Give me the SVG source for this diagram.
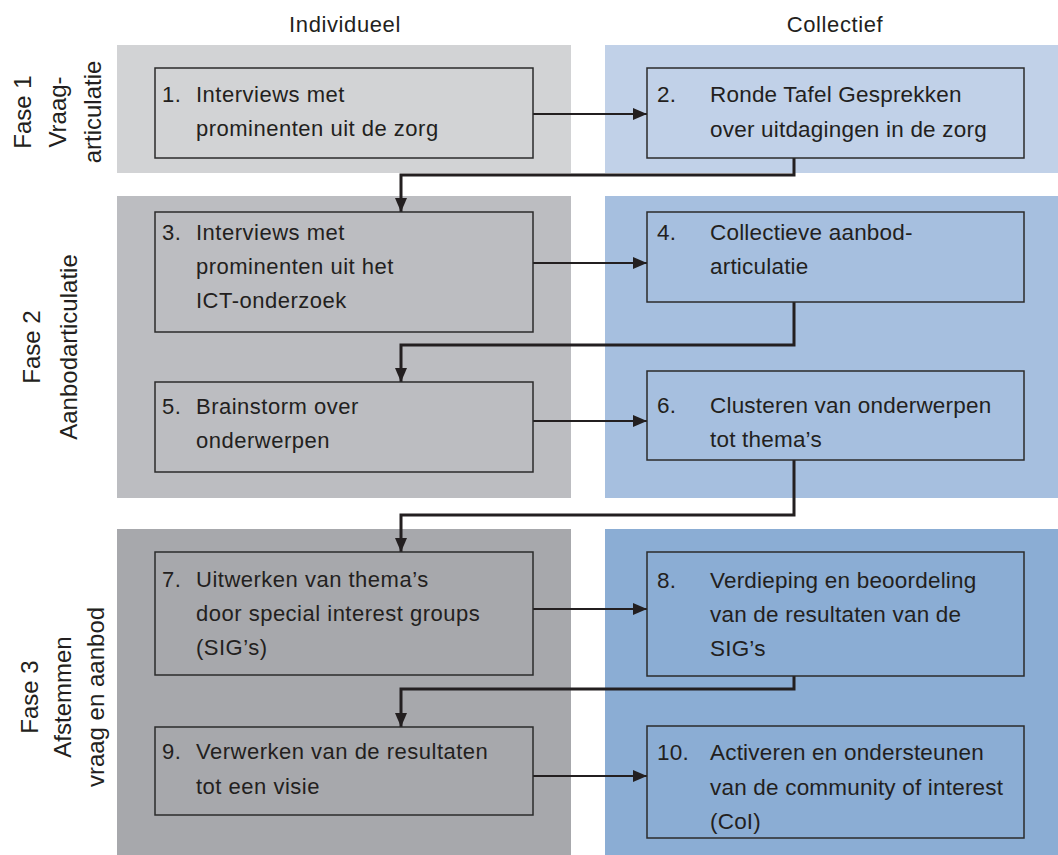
<svg xmlns="http://www.w3.org/2000/svg" width="1058" height="855" viewBox="0 0 1058 855">
<style>
text{font-family:"Liberation Sans",Arial,sans-serif;fill:#231f20}
.l{font-size:22px;letter-spacing:0.5px}
.r{font-size:22.5px;letter-spacing:0.2px}
.h{font-size:22px;letter-spacing:0.6px;text-anchor:middle}
.p{font-size:24px;text-anchor:middle}
.box{fill:none;stroke:#2b2b2b;stroke-width:1.5}
.thin{fill:none;stroke:#231f20;stroke-width:2}
.thick{fill:none;stroke:#231f20;stroke-width:3}
</style>
<defs>
<marker id="ah" viewBox="0 0 14 12" refX="14" refY="6" markerWidth="14" markerHeight="12" markerUnits="userSpaceOnUse" orient="auto">
<path d="M0,0 L14,6 L0,12 Z" fill="#231f20"/>
</marker>
</defs>
<g id="panels">
<rect x="117" y="45" width="454" height="128" fill="#d2d3d5"/>
<rect x="605" y="45" width="453" height="128" fill="#c1d1e8"/>
<rect x="117" y="196" width="454" height="302" fill="#bcbdc1"/>
<rect x="605" y="196" width="453" height="302" fill="#a6bfdf"/>
<rect x="117" y="529" width="454" height="326" fill="#a7a8ac"/>
<rect x="605" y="529" width="453" height="326" fill="#8badd4"/>
</g>
<g id="headers">
<text class="h" x="345" y="32">Individueel</text>
<text class="h" x="835" y="32">Collectief</text>
</g>
<g id="phases">
<g transform="translate(0,112) rotate(-90)">
<text class="p" x="0" y="31">Fase 1</text>
<text class="p" x="0" y="66">Vraag-</text>
<text class="p" x="0" y="101">articulatie</text>
</g>
<g transform="translate(0,347) rotate(-90)">
<text class="p" x="0" y="40">Fase 2</text>
<text class="p" x="0" y="77">Aanbodarticulatie</text>
</g>
<g transform="translate(0,697) rotate(-90)">
<text class="p" x="0" y="38">Fase 3</text>
<text class="p" x="0" y="71">Afstemmen</text>
<text class="p" x="0" y="104">vraag en aanbod</text>
</g>
</g>
<g id="connectors">
<path class="thin" d="M533,114 H647" marker-end="url(#ah)"/>
<path class="thick" d="M794,158 V175 H401 V212" marker-end="url(#ah)"/>
<path class="thin" d="M533,263 H647" marker-end="url(#ah)"/>
<path class="thick" d="M794,302 V345 H401 V382" marker-end="url(#ah)"/>
<path class="thin" d="M533,421 H647" marker-end="url(#ah)"/>
<path class="thick" d="M794,460 V515 H401 V552" marker-end="url(#ah)"/>
<path class="thin" d="M533,609 H647" marker-end="url(#ah)"/>
<path class="thick" d="M794,676 V689 H401 V727" marker-end="url(#ah)"/>
<path class="thin" d="M533,776 H647" marker-end="url(#ah)"/>
</g>
<g id="n1">
<rect class="box" x="155" y="68" width="378" height="90"/>
<text class="l" x="162" y="102">1.</text>
<text class="l" x="196" y="102">Interviews met</text>
<text class="l" x="196" y="136">prominenten uit de zorg</text>
</g>
<g id="n2">
<rect class="box" x="647" y="68" width="377" height="90"/>
<text class="r" x="657" y="102">2.</text>
<text class="r" x="710" y="102">Ronde Tafel Gesprekken</text>
<text class="r" x="710" y="137">over uitdagingen in de zorg</text>
</g>
<g id="n3">
<rect class="box" x="155" y="212" width="378" height="120"/>
<text class="l" x="162" y="240">3.</text>
<text class="l" x="196" y="240">Interviews met</text>
<text class="l" x="196" y="274">prominenten uit het</text>
<text class="l" x="196" y="308">ICT-onderzoek</text>
</g>
<g id="n4">
<rect class="box" x="647" y="212" width="377" height="90"/>
<text class="r" x="657" y="240">4.</text>
<text class="r" x="710" y="240">Collectieve aanbod-</text>
<text class="r" x="710" y="274">articulatie</text>
</g>
<g id="n5">
<rect class="box" x="155" y="382" width="378" height="90"/>
<text class="l" x="162" y="414">5.</text>
<text class="l" x="196" y="414">Brainstorm over</text>
<text class="l" x="196" y="448">onderwerpen</text>
</g>
<g id="n6">
<rect class="box" x="647" y="371" width="377" height="89"/>
<text class="r" x="657" y="413">6.</text>
<text class="r" x="710" y="413">Clusteren van onderwerpen</text>
<text class="r" x="710" y="447">tot thema’s</text>
</g>
<g id="n7">
<rect class="box" x="155" y="552" width="378" height="123"/>
<text class="l" x="162" y="587">7.</text>
<text class="l" x="196" y="587">Uitwerken van thema’s</text>
<text class="l" x="196" y="621">door special interest groups</text>
<text class="l" x="196" y="655">(SIG’s)</text>
</g>
<g id="n8">
<rect class="box" x="647" y="552" width="377" height="124"/>
<text class="r" x="657" y="588">8.</text>
<text class="r" x="710" y="588">Verdieping en beoordeling</text>
<text class="r" x="710" y="622">van de resultaten van de</text>
<text class="r" x="710" y="656">SIG’s</text>
</g>
<g id="n9">
<rect class="box" x="155" y="727" width="378" height="88"/>
<text class="l" x="162" y="759">9.</text>
<text class="l" x="196" y="759">Verwerken van de resultaten</text>
<text class="l" x="196" y="794">tot een visie</text>
</g>
<g id="n10">
<rect class="box" x="647" y="726" width="377" height="112"/>
<text class="r" x="657" y="760">10.</text>
<text class="r" x="710" y="760">Activeren en ondersteunen</text>
<text class="r" x="710" y="795">van de community of interest</text>
<text class="r" x="710" y="829">(CoI)</text>
</g>
</svg>
